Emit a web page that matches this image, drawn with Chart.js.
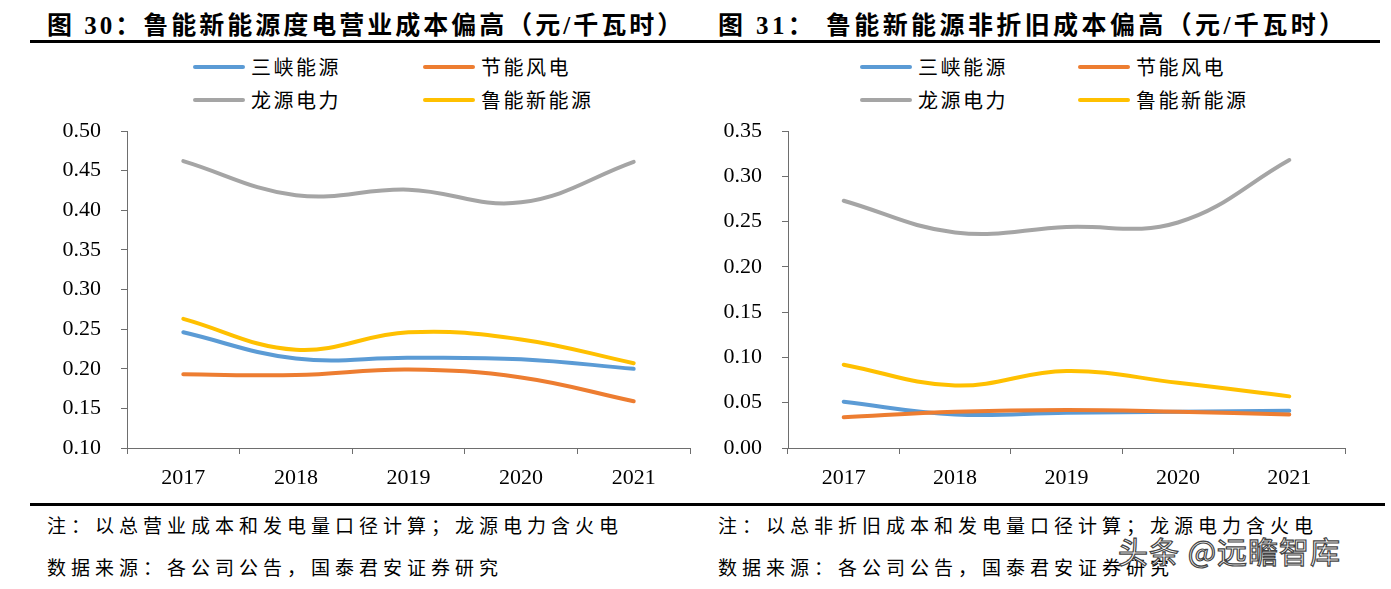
<!DOCTYPE html>
<html>
<head>
<meta charset="utf-8">
<script src="https://cdn.jsdelivr.net/npm/chart.js@4.4.0/dist/chart.umd.min.js"></script>
<style>
  html, body { margin: 0; padding: 0; background: #fff; }
  body { width: 1391px; height: 589px; position: relative; overflow: hidden;
         font-family: "Liberation Serif", "Noto Sans CJK SC", serif; color: #000; }
  .title { position: absolute; top: 5px; font-size: 25px; font-weight: bold; letter-spacing: 3px; white-space: nowrap; }
  .rule { position: absolute; height: 3px; background: #000; }
  .note { position: absolute; font-size: 19px; letter-spacing: 5px; white-space: nowrap; }
  .leg { position: absolute; display: flex; align-items: center; font-size: 20px; letter-spacing: 2.5px; white-space: nowrap; font-family: "Noto Sans CJK SC", sans-serif; }
  .leg i { display: inline-block; width: 52px; height: 4px; border-radius: 2px; margin-right: 6px; }
  canvas { position: absolute; }
  .wm { position: absolute; left: 1118px; top: 528px; font-size: 30px; color: #fff; font-family: "Noto Sans CJK SC", sans-serif;
        -webkit-text-stroke: 1.2px #444; white-space: nowrap; letter-spacing: 1px; }
</style>
</head>
<body>
<div class="title" style="left:47px;">图 30：鲁能新能源度电营业成本偏高（元/千瓦时）</div>
<div class="title" style="left:718px; letter-spacing:3.4px;">图 31：&nbsp;鲁能新能源非折旧成本偏高（元/千瓦时）</div>
<div class="rule" style="left:30px; width:1350px; top:40px;"></div>
<div id="legL"></div>
<div id="legR"></div>
<canvas id="c1" width="680" height="385" style="left:20px; top:115px;"></canvas>
<canvas id="c2" width="680" height="385" style="left:700px; top:115px;"></canvas>
<div class="rule" style="left:30px; width:1355px; top:503px; height:3px;"></div>
<div class="note" style="left:47px; top:511px;">注：以总营业成本和发电量口径计算；龙源电力含火电</div>
<div class="note" style="left:47px; top:553px;">数据来源：各公司公告，国泰君安证券研究</div>
<div class="note" style="left:718px; top:511px;">注：以总非折旧成本和发电量口径计算；龙源电力含火电</div>
<div class="note" style="left:718px; top:553px;">数据来源：各公司公告，国泰君安证券研究</div>
<div class="wm">头条 @远瞻智库</div>
<script>
// ---- data ----
const categories = ['2017', '2018', '2019', '2020', '2021'];
const seriesNames = ['三峡能源', '节能风电', '龙源电力', '鲁能新能源'];
const seriesColors = ['#5B9BD5', '#ED7D31', '#A5A5A5', '#FFC000'];

// 图30 度电营业成本（元/千瓦时）
const opCostSanxia   = [0.246, 0.213, 0.214, 0.212, 0.200];
const opCostJieneng  = [0.193, 0.192, 0.199, 0.189, 0.159];
const opCostLongyuan = [0.462, 0.419, 0.426, 0.410, 0.461];
const opCostLuneng   = [0.263, 0.224, 0.246, 0.237, 0.207];

// 图31 度电非折旧成本（元/千瓦时）
const nonDepSanxia   = [0.051, 0.037, 0.039, 0.040, 0.041];
const nonDepJieneng  = [0.034, 0.040, 0.042, 0.040, 0.037];
const nonDepLongyuan = [0.273, 0.238, 0.244, 0.249, 0.318];
const nonDepLuneng   = [0.092, 0.069, 0.085, 0.072, 0.057];

// y-axis tick ranges [min, max, step]
const leftAxis  = [0.10, 0.50, 0.05];
const rightAxis = [0.00, 0.35, 0.05];

// ---- legends (HTML) ----
function buildLegend(id, x0, x1, y0, y1) {
  const pos = [[x0, y0], [x1, y0], [x0, y1], [x1, y1]];
  const host = document.getElementById(id);
  seriesNames.forEach((n, i) => {
    const d = document.createElement('div');
    d.className = 'leg';
    d.style.left = pos[i][0] + 'px';
    d.style.top = (pos[i][1] - 15) + 'px';
    d.innerHTML = '<i style="background:' + seriesColors[i] + '"></i>' + n;
    host.appendChild(d);
  });
}
buildLegend('legL', 193, 423, 67, 100);
buildLegend('legR', 860, 1078, 67, 100);

// ---- charts ----
const axisColor = '#6e6e6e';
const tickFont = { family: '"Liberation Serif", serif', size: 22 };

function makeChart(canvasId, series, axis, yWidth, padRight) {
  const datasets = series.map((d, i) => ({
    label: seriesNames[i],
    data: d,
    borderColor: seriesColors[i],
    backgroundColor: seriesColors[i],
    borderWidth: 4,
    pointRadius: 0,
    tension: 0.4,
    fill: false,
    order: series.length - i,
    borderCapStyle: 'round'
  }));
  return new Chart(document.getElementById(canvasId), {
    type: 'line',
    data: { labels: categories, datasets },
    options: {
      responsive: false,
      animation: false,
      devicePixelRatio: 1,
      layout: { padding: { top: 16, right: padRight, left: 0, bottom: 0 } },
      plugins: { legend: { display: false }, tooltip: { enabled: false } },
      scales: {
        x: {
          offset: true,
          grid: { offset: true, drawOnChartArea: false, drawTicks: true, tickLength: 6, color: axisColor, lineWidth: 1 },
          border: { display: true, color: axisColor, width: 1 },
          ticks: { color: '#000', font: tickFont, padding: 11, maxRotation: 0 },
          afterFit: s => { s.height = 52; s.paddingLeft = 0; s.paddingRight = 0; }
        },
        y: {
          min: axis[0], max: axis[1],
          grid: { drawOnChartArea: false, drawTicks: true, tickLength: 6, color: axisColor, lineWidth: 1 },
          border: { display: true, color: axisColor, width: 1 },
          ticks: { stepSize: axis[2], color: '#000', font: tickFont, padding: 20,
                   callback: v => Number(v).toFixed(2) },
          afterFit: s => { s.width = yWidth; s.paddingTop = 0; s.paddingBottom = 0; }
        }
      }
    }
  });
}

makeChart('c1', [opCostSanxia, opCostJieneng, opCostLongyuan, opCostLuneng], leftAxis, 107, 10);
makeChart('c2', [nonDepSanxia, nonDepJieneng, nonDepLongyuan, nonDepLuneng], rightAxis, 88, 35);
</script>
</body>
</html>
